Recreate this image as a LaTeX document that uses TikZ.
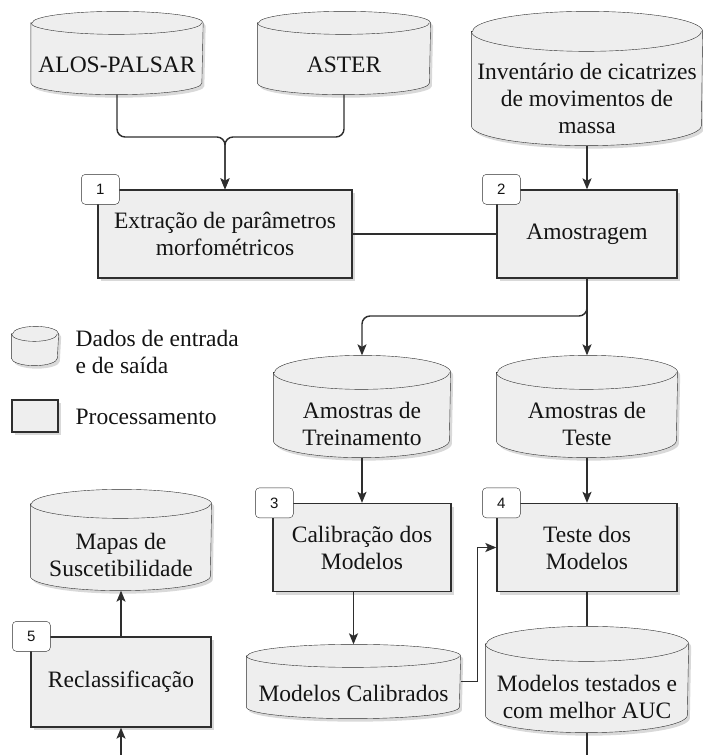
\documentclass[tikz,border=0pt]{standalone}
\usepackage{fontspec}
\setmainfont{Liberation Serif}
\newfontfamily\tagfont{Liberation Sans}
\usetikzlibrary{arrows.meta, backgrounds, shadows}

\definecolor{boxfill}{HTML}{EEEEEE}
\definecolor{linegray}{HTML}{2E2E2E}

% Cylinder drawn round a named body node: name, half width, ry, 2ry
\newcommand{\drum}[4]{%
    \begin{pgfonlayer}{background}
        \draw[drum]
            ([yshift=#3]#1.north west) -- ([yshift=#3]#1.south west)
            arc[start angle=180, end angle=360, x radius=#2, y radius=#3]
            -- ([yshift=#3]#1.north east)
            arc[start angle=0, end angle=180, x radius=#2, y radius=#3]
            -- cycle;
        \draw[rim] ([yshift=#3]#1.north west)
            arc[start angle=180, end angle=360, x radius=#2, y radius=#3];
    \end{pgfonlayer}
    \coordinate (#1-top) at ([yshift=#4]#1.north);
}

\begin{document}
\begin{tikzpicture}[%
        x = 1pt, y = -1pt,
        > = {Stealth[length=11pt, width=9pt, inset=2.5pt]},
        line width = 1.3pt,
        every node/.style = {font=\fontsize{23.5}{27}\selectfont, text=black!92},
        boxshadow/.style = {%
            drop shadow = {shadow xshift=2.5pt, shadow yshift=-3pt,
                           opacity=0.15, fill=black}
        },
        proc/.style = {%
            draw = linegray, fill = boxfill, boxshadow, align = center,
            inner sep = 0pt, minimum width = 180pt, minimum height = 88pt
        },
        store/.style = {align = center, inner sep = 0pt},
        drum/.style = {draw = linegray, fill = boxfill, boxshadow},
        rim/.style = {draw = linegray},
        tag/.style = {%
            draw = linegray, fill = white, rounded corners = 4pt,
            inner sep = 0pt, minimum width = 38pt, minimum height = 30pt,
            font = \tagfont\fontsize{15}{18}\selectfont
        },
        link/.style = {draw = linegray, line width = 1.5pt},
        bent/.style = {draw = linegray, rounded corners = 8pt, line width = 1.45pt}
    ]

        \useasboundingbox (0,0) rectangle (703,755);

        % Input data:
        \node[store, minimum width=171pt, minimum height=59pt] (alos) at (117,64.5) {ALOS-PALSAR};
        \node[store, minimum width=172pt, minimum height=59pt] (aster) at (344,64.5) {ASTER};
        \node[store, minimum width=230pt, minimum height=93pt] (inv) at (587,98.5)
            {Inventário de cicatrizes\\de movimentos de\\massa};

        % Processing steps:
        \node[proc, minimum width=254pt] (extr) at (225,234) {Extração de parâmetros\\morfométricos};
        \node[proc] (amost) at (587,234) {Amostragem};
        \node[proc, minimum width=178pt] (calib) at (362,547.5) {Calibração dos\\Modelos};
        \node[proc] (testm) at (587,547.5) {Teste dos\\Modelos};
        \node[proc, minimum height=90pt] (reclass) at (121,682) {Reclassificação};

        % Intermediate and output data:
        \node[store, minimum width=176pt, minimum height=67pt] (treino) at (362,423.5) {Amostras de\\Treinamento};
        \node[store, minimum width=180pt, minimum height=67pt] (teste) at (587,423.5) {Amostras de\\Teste};
        \node[store, minimum width=180pt, minimum height=71pt] (mapas) at (121,554.5) {Mapas de\\Suscetibilidade};
        \node[store, minimum width=213pt, minimum height=50pt] (calibd) at (353.5,693) {Modelos Calibrados};
        \node[store, minimum width=202pt, minimum height=70pt] (testd) at (587,697) {Modelos testados e\\com melhor AUC};

        % Legend:
        \node[store, minimum width=46pt, minimum height=23pt] (legdb) at (35,353.5) {};
        \node[anchor=west, align=left, inner sep=0pt] (legdbtxt) at (75,351.5) {Dados de entrada\\e de saída};
        \node[proc, minimum width=46pt, minimum height=32pt] (legproc) at (35,416) {};
        \node[anchor=west, inner sep=0pt] (legproctxt) at (75,417) {Processamento};

        % Cylinders behind the data nodes.
        \drum{alos}{85.5pt}{11.5pt}{23pt}
        \drum{aster}{86pt}{11.5pt}{23pt}
        \drum{inv}{115pt}{20pt}{40pt}
        \drum{treino}{88pt}{17pt}{34pt}
        \drum{teste}{90pt}{17pt}{34pt}
        \drum{mapas}{90pt}{14.5pt}{29pt}
        \drum{calibd}{106.5pt}{11.5pt}{23pt}
        \drum{testd}{101pt}{17.5pt}{35pt}
        \drum{legdb}{23pt}{7.5pt}{15pt}

        % Step numbers:
        \node[tag] (tag1) at ([xshift=3pt]extr.north west) {1};
        \node[tag] (tag2) at ([xshift=5pt]amost.north west) {2};
        \node[tag] (tag3) at ([xshift=2pt]calib.north west) {3};
        \node[tag] (tag4) at ([xshift=5pt]testm.north west) {4};
        \node[tag] (tag5) at ([xshift=1pt]reclass.north west) {5};

        % Connectors:
        \coordinate (merge) at (extr.north |- 0,137);
        \coordinate (split) at (amost.south |- 0,316);
        \coordinate (out) at (testd.south |- 0,755);
        \coordinate (feed) at (reclass.south |- 0,755);

        \draw[bent, ->] (alos.south) |- (merge) -- (extr.north);
        \draw[bent, ->] (aster.south) |- (merge) -- (extr.north);
        \draw[link, ->] (inv.south) -- (amost.north);
        \draw[link] (extr.east) -- (amost.west);
        \draw[bent, ->] (amost.south) -- (split) -| (treino-top);
        \draw[link, ->] (amost.south) -- (teste-top);
        \draw[link, ->] (treino.south) -- (calib.north);
        \draw[link, ->] (teste.south) -- (testm.north);
        \draw[link, ->] (calib.south -| calibd-top) -- (calibd-top);
        \draw[link, ->] ([yshift=11.5pt]calibd.east) -| ([xshift=-19pt]testm.west) -- (testm.west);
        \draw[link] (testm.south) -- (testd-top);
        \draw[link] (testd.south) -- (out);
        \draw[link, ->] (feed) -- (reclass.south);
        \draw[link, ->] (reclass.north) -- (mapas.south);
    \end{tikzpicture}
\end{document}
